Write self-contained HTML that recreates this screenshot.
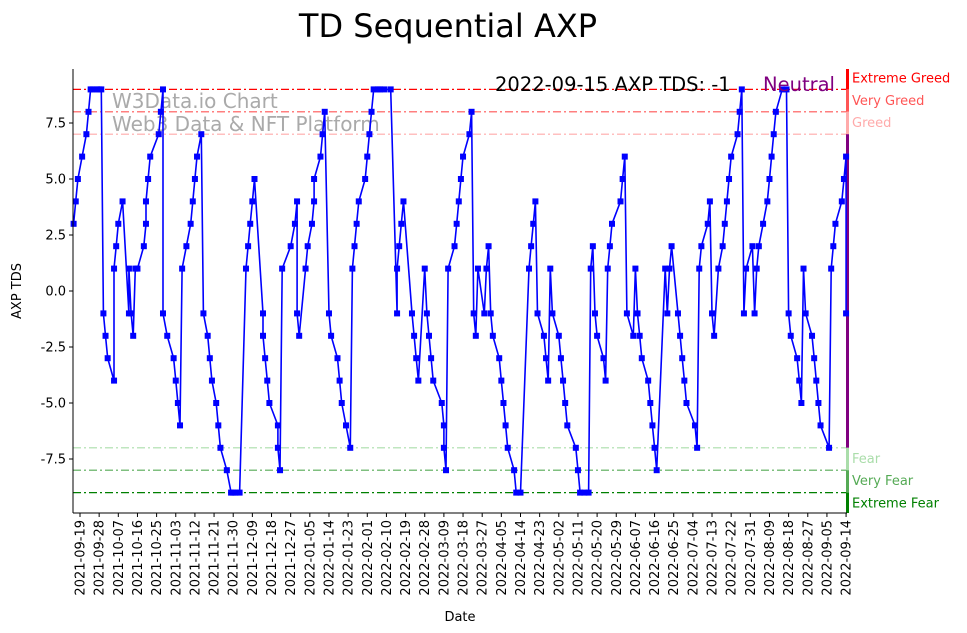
<!DOCTYPE html>
<html><head><meta charset="utf-8">
<style>
html,body{margin:0;padding:0;background:#fff;}
svg{display:block;font-family:"DejaVu Sans","Liberation Sans",sans-serif;}
</style></head>
<body>
<svg id="chart" width="967" height="633" viewBox="0 0 967 633" xmlns="http://www.w3.org/2000/svg">
<text x="448" y="37" font-size="32" text-anchor="middle" fill="#000">TD Sequential AXP</text>
<g id="bands"></g>
<g id="wm" fill="#aaaaaa" font-size="20">
<text x="112" y="108">W3Data.io Chart</text>
<text x="112" y="131">Web3 Data &amp; NFT Platform</text>
</g>
<g id="series"></g>
<g id="axes"></g>
<text x="495" y="91" font-size="19.5" fill="#000">2022-09-15 AXP TDS: -1</text>
<text x="763" y="91" font-size="19.5" fill="#800080">Neutral</text>
<text transform="translate(21,291) rotate(-90)" font-size="13" text-anchor="middle">AXP TDS</text>
<text x="460" y="621" font-size="13" text-anchor="middle">Date</text>
</svg>
<script>
const days = [-3,-2,-1,1,3,4,5,6,8,9,10,11,12,13,16,16,17,18,20,23,23,24,25,26,27,30,31,31,32,33,37,38,39,39,41,44,45,46,47,48,50,52,53,54,55,57,58,60,61,62,64,65,66,69,71,72,73,75,78,79,80,81,82,86,86,87,88,89,93,93,94,95,99,101,102,102,103,106,107,109,110,110,113,114,115,117,118,121,122,123,125,127,128,129,130,131,134,135,136,137,138,140,141,143,146,149,149,150,151,152,156,157,158,159,162,163,164,165,166,170,171,171,172,173,176,177,178,179,180,183,184,185,186,187,190,191,192,193,194,197,198,199,200,201,204,205,207,211,212,213,214,215,218,219,220,221,222,225,226,227,228,229,233,234,235,237,239,240,241,242,243,246,247,248,249,250,254,255,256,257,260,261,262,263,264,267,268,269,270,271,275,276,277,278,281,282,283,284,285,289,290,291,292,295,296,297,298,300,302,303,304,305,306,309,310,311,312,313,316,317,318,319,321,323,324,325,326,327,330,332,333,334,337,338,339,340,341,344,345,346,347,348,352,353,354,355,358,359,360,360];
const tds = [3,4,5,6,7,8,9,9,9,9,9,-1,-2,-3,-4,1,2,3,4,-1,1,-1,-2,1,1,2,3,4,5,6,7,8,9,-1,-2,-3,-4,-5,-6,1,2,3,4,5,6,7,-1,-2,-3,-4,-5,-6,-7,-8,-9,-9,-9,-9,1,2,3,4,5,-1,-2,-3,-4,-5,-6,-7,-8,1,2,3,4,-1,-2,1,2,3,4,5,6,7,8,-1,-2,-3,-4,-5,-6,-7,1,2,3,4,5,6,7,8,9,9,9,9,9,-1,1,2,3,4,-1,-2,-3,-4,1,-1,-2,-3,-4,-5,-6,-7,-8,1,2,3,4,5,6,7,8,-1,-2,1,-1,1,2,-1,-2,-3,-4,-5,-6,-7,-8,-9,-9,1,2,3,4,-1,-2,-3,-4,1,-1,-2,-3,-4,-5,-6,-7,-8,-9,-9,-9,1,2,-1,-2,-3,-4,1,2,3,4,5,6,-1,-2,1,-1,-2,-3,-4,-5,-6,-7,-8,1,-1,1,2,-1,-2,-3,-4,-5,-6,-7,1,2,3,4,-1,-2,1,2,3,4,5,6,7,8,9,-1,1,2,-1,1,2,3,4,5,6,7,8,9,9,-1,-2,-3,-4,-5,1,-1,-2,-3,-4,-5,-6,-7,1,2,3,4,5,6,-1];
const yTicks = [-7.5,-5,-2.5,0,2.5,5,7.5];
const bandLevels = [9,8,7,-7,-8,-9];
const bandLabels = ["Extreme Greed","Very Greed","Greed","Fear","Very Fear","Extreme Fear"];
const bandColors = ["#ff0000","#ff5555","#ffaaaa","#aaddaa","#55aa55","#008000"];
const tickStep = 9, tickCount = 41;

const NS="http://www.w3.org/2000/svg";
const X0=80, PXD=2.128, Y0=291, PXV=22.4, LEFT=73, RIGHT=847, TOP=69, BOT=513;
const xs=d=>X0+d*PXD, ys=v=>Y0-v*PXV;
function mk(tag,attrs,parent){const e=document.createElementNS(NS,tag);for(const k in attrs)e.setAttribute(k,attrs[k]);parent.appendChild(e);return e;}
const bands=document.getElementById('bands'), series=document.getElementById('series'), axes=document.getElementById('axes');

bandLevels.forEach((lv,i)=>{
  const l=mk('line',{x1:LEFT,x2:RIGHT,y1:ys(lv),y2:ys(lv),stroke:bandColors[i],'stroke-width':1.2,'stroke-dasharray':'8,3,2,3'},bands);
  
  
  const off=[-11,-11,-11,11,11,11][i];
  const t=mk('text',{x:852,y:ys(lv)+off+4,'font-size':13,fill:bandColors[i]},bands);
  t.textContent=bandLabels[i];
  
  
});
const segs=[[TOP,ys(9),"#ff0000"],[ys(9),ys(8),"#ff5555"],[ys(8),ys(7),"#ffaaaa"],[ys(7),ys(-7),"#800080"],[ys(-7),ys(-8),"#aaddaa"],[ys(-8),ys(-9),"#55aa55"],[ys(-9),BOT,"#008000"]];
segs.forEach(s=>{
  const r=mk('rect',{x:846,y:s[0],width:3,height:s[1]-s[0],fill:s[2]},bands);
  
  
});

let dstr=days.map((d,i)=>(i?'L':'M')+xs(d).toFixed(1)+','+ys(tds[i]).toFixed(1)).join(' ');
const path=mk('path',{d:dstr,fill:'none',stroke:'#0000ff','stroke-width':1.6},series);


days.forEach((d,i)=>{
  const m=mk('rect',{x:xs(d)-3,y:ys(tds[i])-3,width:6,height:6,fill:'#0000ff'},series);
  
  
});

const ya=mk('line',{x1:LEFT,x2:LEFT,y1:TOP,y2:BOT,stroke:'#000','stroke-width':1},axes);


const xa=mk('line',{x1:LEFT,x2:RIGHT,y1:BOT,y2:BOT,stroke:'#000','stroke-width':1},axes);


yTicks.forEach(v=>{
  mk('line',{x1:LEFT-4,x2:LEFT,y1:ys(v),y2:ys(v),stroke:'#000'},axes);
  const t=mk('text',{x:LEFT-7,y:ys(v)+4.5,'font-size':13,'text-anchor':'end'},axes);
  t.textContent=v.toFixed(1);
  
  
});
const start=new Date(Date.UTC(2021,8,19));
for(let k=0;k<tickCount;k++){
  const d=k*tickStep, x=xs(d);
  mk('line',{x1:x,x2:x,y1:BOT,y2:BOT+4,stroke:'#000'},axes);
  const dt=new Date(start.getTime()+d*86400000);
  const t=mk('text',{transform:`translate(${x+4.5},${BOT+7}) rotate(-90)`,'font-size':13,'text-anchor':'end'},axes);
  t.textContent=dt.toISOString().slice(0,10);
  
  
}
</script>
</body></html>
